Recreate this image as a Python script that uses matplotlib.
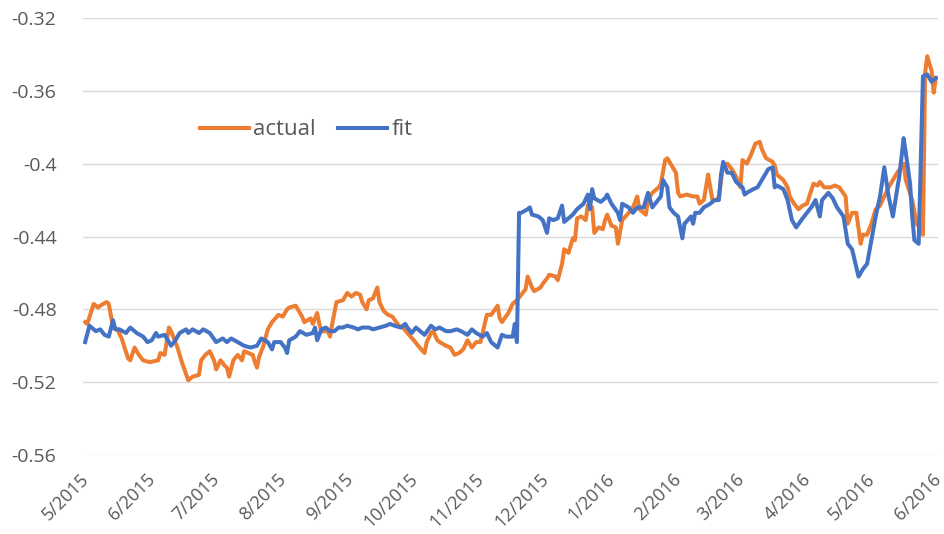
import numpy as np
import pandas as pd
import matplotlib
matplotlib.use("Agg")
import matplotlib.pyplot as plt
import matplotlib.transforms as mtransforms

plt.rcParams['font.family'] = ['Open Sans', 'DejaVu Sans']

start = pd.Timestamp('2015-05-01')

# actual series: days after 5/1/2015 and values
actual_day = [0, 1, 4, 6, 7, 10, 11, 13, 15, 17, 20, 21, 23, 25, 27, 30, 34, 35, 37, 39,
              40, 43, 45, 48, 50, 53, 54, 56, 58, 60, 61, 63, 65, 66, 67, 69, 71, 73, 74, 78,
              79, 80, 81, 83, 85, 87, 90, 92, 94, 95, 98, 99, 101, 102, 105, 106, 108, 109, 110, 113,
              114, 115, 117, 120, 121, 122, 124, 126, 128, 129, 131, 132, 134, 136, 137, 139, 141, 143, 146, 148,
              150, 153, 155, 158, 159, 161, 162, 164, 165, 168, 170, 172, 174, 176, 178, 180, 182, 184, 185, 187,
              189, 192, 193, 194, 197, 199, 201, 203, 205, 206, 208, 209, 212, 213, 215, 216, 219, 220, 222, 223,
              225, 227, 228, 229, 231, 233, 234, 236, 237, 239, 241, 242, 243, 245, 247, 248, 250, 253, 255, 257,
              258, 261, 262, 264, 267, 268, 270, 271, 273, 275, 276, 277, 280, 283, 285, 286, 288, 290, 292, 294,
              295, 297, 299, 301, 303, 305, 306, 308, 310, 312, 314, 315, 317, 320, 321, 322, 325, 327, 328, 330,
              332, 334, 336, 339, 341, 342, 344, 347, 349, 351, 354, 355, 357, 359, 361, 362, 364, 366, 368, 370,
              372, 374, 376, 378, 381, 382, 385, 387, 389, 390, 391, 392, 394, 395, 396]
actual = [-0.487, -0.488, -0.477, -0.479, -0.478, -0.476, -0.477, -0.490, -0.491, -0.496,
          -0.507, -0.508, -0.501, -0.505, -0.508, -0.509, -0.508, -0.504, -0.505, -0.490,
          -0.492, -0.501, -0.509, -0.519, -0.517, -0.516, -0.508, -0.505, -0.503, -0.508,
          -0.513, -0.508, -0.511, -0.512, -0.517, -0.508, -0.505, -0.508, -0.503, -0.505,
          -0.509, -0.512, -0.506, -0.500, -0.491, -0.487, -0.483, -0.484, -0.480, -0.479,
          -0.478, -0.480, -0.484, -0.487, -0.485, -0.488, -0.482, -0.488, -0.492, -0.492,
          -0.495, -0.488, -0.476, -0.475, -0.473, -0.471, -0.473, -0.471, -0.472, -0.476,
          -0.480, -0.475, -0.474, -0.468, -0.476, -0.481, -0.483, -0.484, -0.489, -0.490,
          -0.493, -0.497, -0.500, -0.504, -0.498, -0.493, -0.492, -0.497, -0.498, -0.500,
          -0.501, -0.505, -0.504, -0.502, -0.497, -0.501, -0.498, -0.498, -0.493, -0.483,
          -0.483, -0.478, -0.485, -0.487, -0.482, -0.477, -0.475, -0.472, -0.469, -0.462,
          -0.468, -0.470, -0.468, -0.466, -0.463, -0.461, -0.462, -0.464, -0.455, -0.447,
          -0.449, -0.441, -0.442, -0.430, -0.429, -0.431, -0.423, -0.424, -0.438, -0.435,
          -0.436, -0.431, -0.428, -0.434, -0.435, -0.444, -0.431, -0.427, -0.424, -0.418,
          -0.425, -0.428, -0.420, -0.416, -0.413, -0.411, -0.398, -0.397, -0.401, -0.405,
          -0.416, -0.418, -0.417, -0.418, -0.418, -0.422, -0.420, -0.406, -0.420, -0.420,
          -0.418, -0.401, -0.400, -0.403, -0.407, -0.413, -0.398, -0.400, -0.395, -0.389,
          -0.388, -0.392, -0.397, -0.399, -0.401, -0.406, -0.409, -0.413, -0.418, -0.422,
          -0.425, -0.423, -0.422, -0.411, -0.412, -0.410, -0.413, -0.413, -0.412, -0.413,
          -0.418, -0.433, -0.427, -0.427, -0.444, -0.439, -0.439, -0.433, -0.425, -0.423,
          -0.418, -0.413, -0.409, -0.405, -0.400, -0.409, -0.420, -0.433, -0.436, -0.439,
          -0.350, -0.341, -0.349, -0.361, -0.353]

# fit series
fit_day = [0, 2, 5, 7, 9, 11, 13, 14, 16, 19, 21, 24, 27, 29, 31, 33, 34, 37, 40, 42,
           44, 47, 48, 50, 53, 55, 58, 61, 64, 66, 68, 71, 74, 77, 80, 82, 85, 87, 88, 91,
           93, 94, 95, 98, 100, 103, 106, 107, 108, 110, 112, 114, 116, 118, 120, 122, 125, 127, 129, 132,
           134, 137, 140, 142, 144, 147, 149, 150, 152, 154, 156, 158, 161, 163, 165, 168, 170, 173, 175, 178,
           180, 182, 185, 187, 189, 192, 194, 196, 199, 200, 201, 202, 203, 206, 207, 208, 211, 213, 215, 216,
           218, 220, 222, 223, 225, 227, 229, 232, 234, 235, 236, 237, 240, 242, 243, 245, 248, 249, 250, 253,
           255, 257, 260, 262, 264, 266, 268, 269, 271, 272, 274, 276, 278, 279, 282, 283, 284, 286, 288, 291,
           293, 295, 296, 297, 299, 301, 303, 306, 307, 308, 311, 313, 315, 318, 320, 321, 322, 325, 327, 329,
           331, 334, 336, 338, 340, 342, 343, 346, 348, 350, 353, 355, 357, 359, 360, 362, 364, 366, 368, 370,
           372, 374, 376, 378, 379, 381, 382, 384, 385, 386, 388, 390, 392, 394, 396]
fit = [-0.498, -0.489, -0.492, -0.491, -0.494, -0.495, -0.486, -0.491, -0.491, -0.493,
       -0.490, -0.493, -0.495, -0.498, -0.497, -0.493, -0.495, -0.494, -0.500, -0.497,
       -0.493, -0.491, -0.493, -0.491, -0.493, -0.491, -0.493, -0.498, -0.496, -0.498,
       -0.496, -0.498, -0.500, -0.501, -0.500, -0.496, -0.498, -0.502, -0.498, -0.498,
       -0.501, -0.504, -0.497, -0.495, -0.492, -0.494, -0.493, -0.490, -0.497, -0.491,
       -0.490, -0.492, -0.492, -0.490, -0.490, -0.489, -0.490, -0.491, -0.490, -0.490,
       -0.491, -0.490, -0.489, -0.488, -0.489, -0.490, -0.488, -0.490, -0.493, -0.490,
       -0.492, -0.494, -0.489, -0.491, -0.490, -0.492, -0.492, -0.491, -0.492, -0.494,
       -0.491, -0.493, -0.495, -0.493, -0.498, -0.501, -0.494, -0.495, -0.495, -0.488,
       -0.498, -0.427, -0.427, -0.425, -0.424, -0.428, -0.429, -0.431, -0.438, -0.430,
       -0.431, -0.430, -0.423, -0.432, -0.430, -0.428, -0.425, -0.422, -0.417, -0.425,
       -0.414, -0.419, -0.421, -0.419, -0.417, -0.422, -0.427, -0.431, -0.422, -0.424,
       -0.427, -0.424, -0.424, -0.416, -0.424, -0.421, -0.418, -0.409, -0.413, -0.424,
       -0.427, -0.429, -0.441, -0.433, -0.429, -0.433, -0.427, -0.427, -0.424, -0.422,
       -0.420, -0.420, -0.406, -0.399, -0.405, -0.405, -0.410, -0.413, -0.417, -0.416,
       -0.414, -0.413, -0.409, -0.403, -0.402, -0.413, -0.412, -0.414, -0.420, -0.431,
       -0.435, -0.430, -0.427, -0.424, -0.420, -0.429, -0.420, -0.416, -0.419, -0.424,
       -0.429, -0.444, -0.447, -0.457, -0.462, -0.458, -0.455, -0.442, -0.429, -0.418,
       -0.402, -0.418, -0.429, -0.414, -0.407, -0.386, -0.394, -0.411, -0.429, -0.442,
       -0.444, -0.352, -0.351, -0.355, -0.353]

month_labels = ['5/2015', '6/2015', '7/2015', '8/2015', '9/2015', '10/2015', '11/2015',
                '12/2015', '1/2016', '2/2016', '3/2016', '4/2016', '5/2016', '6/2016']
y_ticks = [-0.56, -0.52, -0.48, -0.44, -0.4, -0.36, -0.32]
y_labels = ['-0.56', '-0.52', '-0.48', '-0.44', '-0.4', '-0.36', '-0.32']

actual_dates = start + pd.to_timedelta(actual_day, unit='D')
fit_dates = start + pd.to_timedelta(fit_day, unit='D')
month_ticks = pd.date_range('2015-05-01', '2016-06-01', freq='MS')

fig = plt.figure(figsize=(9.45, 5.34), dpi=100)
ax = fig.add_axes([83 / 945, 1 - 455 / 534, 855 / 945, 437 / 534])

ax.plot(actual_dates, actual, color='#ED7D31', lw=2.9, label='actual', solid_joinstyle='round')
ax.plot(fit_dates, fit, color='#4472C4', lw=2.9, label='fit', solid_joinstyle='round')

ax.set_ylim(-0.56, -0.32)
ax.set_xlim(start - pd.Timedelta(days=1), pd.Timestamp('2016-06-01'))
ax.set_yticks(y_ticks)
ax.set_yticklabels(y_labels)
ax.set_xticks(month_ticks)
ax.set_xticklabels(month_labels, rotation=45, ha='right', va='top', rotation_mode='anchor')

ax.grid(axis='y', color='#D9D9D9', lw=1.0)
ax.set_axisbelow(True)
for s in ax.spines.values():
    s.set_visible(False)
ax.tick_params(axis='y', length=0, pad=19, labelsize=14, labelcolor='#595959')
ax.tick_params(axis='x', length=0, pad=11, labelsize=13, labelcolor='#595959')

# nudge the rotated date labels a little to the left so the last one fits
shift = mtransforms.ScaledTranslation(-4 / 72, 0, fig.dpi_scale_trans)
for lab in ax.get_xticklabels():
    lab.set_transform(lab.get_transform() + shift)
for lab in ax.get_yticklabels() + ax.get_xticklabels():
    lab.set_clip_on(False)

ax.legend(loc='center', bbox_to_anchor=(0.261, 0.744), ncol=2, frameon=False,
          fontsize=16, handlelength=2.2, handletextpad=0.2, columnspacing=1.0,
          labelcolor='#595959')

fig.savefig('out.png', dpi=100)
